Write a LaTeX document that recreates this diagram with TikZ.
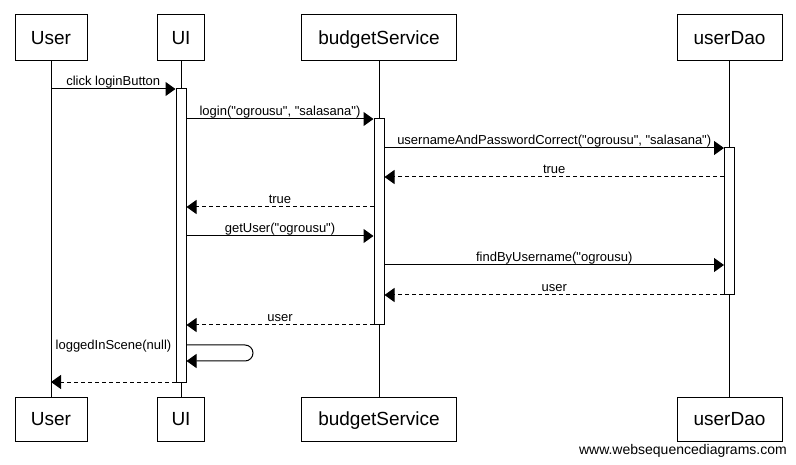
\documentclass[tikz,border=0pt]{standalone}
\usepackage{fontspec}
\setmainfont{Liberation Sans}[Ligatures=TeXOff]
\usetikzlibrary{arrows.meta}
\begin{document}
\begin{tikzpicture}[x=1pt,y=-1pt,
  actor/.style={draw, line width=1pt, inner sep=0pt, font=\fontsize{19}{22}\selectfont, text height=17.6pt, text depth=4pt},
  lifeline/.style={line width=1pt},
  act/.style={draw, fill=white, line width=1pt, minimum width=10pt, inner sep=0pt},
  msg/.style={line width=1pt, -{Triangle[length=10pt,width=14pt]}},
  ret/.style={msg, dash pattern=on 4pt off 3pt},
  lbl/.style={font=\fontsize{13}{15}\selectfont, anchor=base, inner sep=0pt, yshift=3.5pt},
]
\useasboundingbox (0,0) rectangle (796,465);

% actor boxes (top)
\node[actor, minimum width=72pt, minimum height=46pt] (UserT) at (51,38) {User};
\node[actor, minimum width=47pt, minimum height=46pt] (UIT) at (181,38) {UI};
\node[actor, minimum width=155pt, minimum height=46pt] (BST) at (379,38) {budgetService};
\node[actor, minimum width=105pt, minimum height=46pt] (UDT) at (729.5,38) {userDao};
% actor boxes (bottom)
\node[actor, minimum width=72pt, minimum height=44pt] (UserB) at (51,419) {User};
\node[actor, minimum width=47pt, minimum height=44pt] (UIB) at (181,419) {UI};
\node[actor, minimum width=155pt, minimum height=44pt] (BSB) at (379,419) {budgetService};
\node[actor, minimum width=105pt, minimum height=44pt] (UDB) at (729.5,419) {userDao};

% lifelines
\draw[lifeline] (UserT.south) -- (UserB.north);
\draw[lifeline] (UIT.south) -- (UIB.north);
\draw[lifeline] (BST.south) -- (BSB.north);
\draw[lifeline] (UDT.south) -- (UDB.north);

% activations
\node[act, minimum height=293pt] (actUI) at (181,235.5) {};
\node[act, minimum height=206pt] (actBS) at (379,222) {};
\node[act, minimum height=147pt] (actUD) at (729.5,221.5) {};

% message rows
\coordinate (r1) at (0,89);
\coordinate (r2) at (0,119);
\coordinate (r3) at (0,148);
\coordinate (r4) at (0,177);
\coordinate (r5) at (0,207);
\coordinate (r6) at (0,236);
\coordinate (r7) at (0,265);
\coordinate (r8) at (0,295);
\coordinate (r9) at (0,325);
\coordinate (r10a) at (0,345);
\coordinate (r10b) at (0,361);
\coordinate (r11) at (0,382);
\coordinate (selfA) at (253,345);
\coordinate (selfB) at (253,361);

% messages
\draw[msg] (UserT.south |- r1) -- node[lbl]{click loginButton} (actUI.west |- r1);
\draw[msg] (actUI.east |- r2) -- node[lbl]{login("ogrousu", "salasana")} (actBS.west |- r2);
\draw[msg] (actBS.east |- r3) -- node[lbl]{usernameAndPasswordCorrect("ogrousu", "salasana")} (actUD.west |- r3);
\draw[ret] (actUD.west |- r4) -- node[lbl]{true} (actBS.east |- r4);
\draw[ret] (actBS.west |- r5) -- node[lbl]{true} (actUI.east |- r5);
\draw[msg] (actUI.east |- r6) -- node[lbl]{getUser("ogrousu")} (actBS.west |- r6);
\draw[msg] (actBS.east |- r7) -- node[lbl]{findByUsername("ogrousu)} (actUD.west |- r7);
\draw[ret] (actUD.west |- r8) -- node[lbl]{user} (actBS.east |- r8);
\draw[ret] (actBS.west |- r9) -- node[lbl]{user} (actUI.east |- r9);
\draw[msg, rounded corners=8pt] (actUI.east |- r10a) -- (selfA) -- (selfB) -- (actUI.east |- r10b);
\node[font=\fontsize{13}{15}\selectfont, anchor=base east, inner sep=0pt, xshift=-4pt, yshift=-4pt] (selfLbl) at (actUI.west |- r10a) {loggedInScene(null)};
\draw[ret] (actUI.west |- r11) -- (UserT.south |- r11);

% watermark
\node[font=\fontsize{14}{16}\selectfont, anchor=base east, inner sep=0pt] (wm) at (787,454.5) {www.websequencediagrams.com};
\end{tikzpicture}
\end{document}
